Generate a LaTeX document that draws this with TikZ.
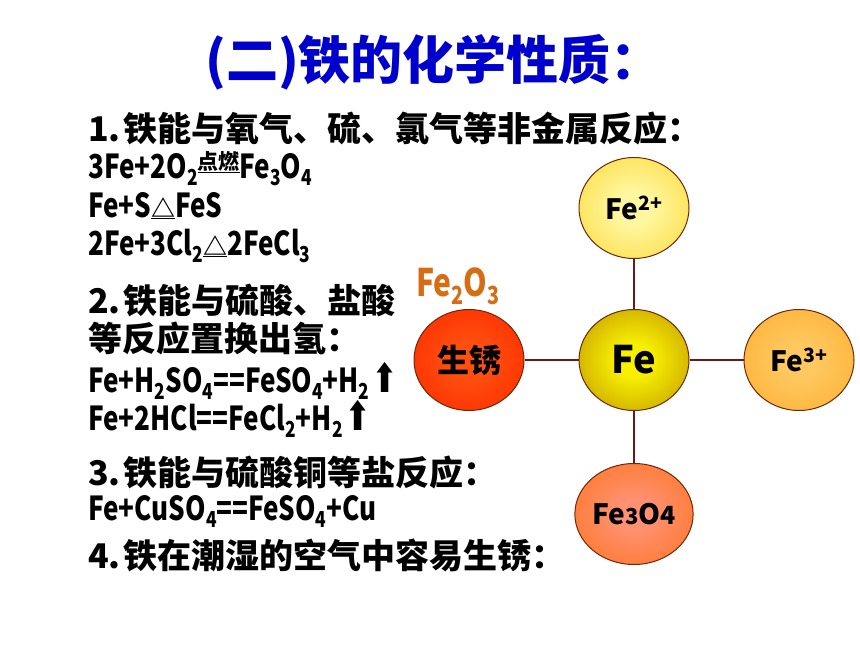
\documentclass[tikz,border=0pt]{standalone}
\usepackage{fontspec}
\usepackage{xcolor}
\setmainfont{Noto Sans CJK SC}
\newfontfamily\narrow{Noto Sans CJK SC}[FakeStretch=0.79]
\newfontfamily\sym{DejaVu Sans}[FakeStretch=0.75]
\usetikzlibrary{shapes.geometric}

\definecolor{titleblue}{RGB}{0,0,204}
\definecolor{rustorange}{RGB}{214,108,20}
\definecolor{linkbrown}{RGB}{107,26,26}
\definecolor{rimbrown}{RGB}{110,40,10}
\colorlet{bubin}{white}
\colorlet{bubmid}{gray}
\colorlet{bubout}{black}
\pgfdeclareradialshading[bubin,bubmid,bubout]{bubble}{\pgfpoint{0bp}{0bp}}{color(0bp)=(bubin); color(8bp)=(bubin); color(30bp)=(bubmid); color(50bp)=(bubout)}

\newcommand\dn[1]{\raisebox{-7pt}{\fontsize{22}{22}\selectfont #1}}
\newcommand\cond[3]{\raisebox{#1}{$\underline{\hbox{\fontsize{#2}{#2}\selectfont #3}}$}}
\newcommand\gasup{\hspace{3pt}{\sym\fontsize{40}{40}\selectfont ⬆}}

\tikzset{
  txt/.style={anchor=base west, inner sep=0pt, font=\fontsize{34}{40}\selectfont\bfseries},
  eqn/.style={anchor=base west, inner sep=0pt, font=\narrow\fontsize{33}{40}\selectfont\bfseries},
  bubble/.style n args={3}{ellipse, draw=rimbrown, line width=1pt, minimum width=110pt, minimum height=101pt, inner sep=0pt, /utils/exec={\definecolor{bubin}{HTML}{#1}\definecolor{bubmid}{HTML}{#2}\definecolor{bubout}{HTML}{#3}}, shade, shading=bubble},
  link/.style={draw=linkbrown, line width=2.5pt}
}

\begin{document}
\begin{tikzpicture}[x=1pt, y=-1pt]
  \useasboundingbox (0,0) rectangle (860,645);
  \node[anchor=base west, inner sep=0pt, font=\fontsize{52}{60}\selectfont\bfseries, text=titleblue] (title) at (205,79) {(二)铁的化学性质：};

  \node[txt] (t1) at (88,141) {1.\hspace{3pt}铁能与氧气、硫、氯气等非金属反应：};
  \node[eqn] (t2) at (88,178) {3Fe+2O\dn{2}\cond{9pt}{21}{\normalfont\bfseries 点燃}Fe\dn{3}O\dn{4}};
  \node[eqn] (t3) at (88,217) {Fe+S\cond{0pt}{24}{\normalfont\bfseries △}FeS};
  \node[eqn] (t4) at (88,255) {2Fe+3Cl\dn{2}\cond{0pt}{24}{\normalfont\bfseries △}2FeCl\dn{3}};
  \node[txt] (t5) at (88,313) {2.\hspace{3pt}铁能与硫酸、盐酸};
  \node[txt] (t6) at (88,351) {等反应置换出氢：};
  \node[eqn] (t7) at (88,392) {Fe+H\dn{2}SO\dn{4}==FeSO\dn{4}+H\dn{2}\gasup};
  \node[eqn] (t8) at (88,430) {Fe+2HCl==FeCl\dn{2}+H\dn{2}\gasup};
  \node[txt] (t9) at (88,485) {3.\hspace{3pt}铁能与硫酸铜等盐反应：};
  \node[eqn] (t10) at (88,520) {Fe+CuSO\dn{4}==FeSO\dn{4}+Cu};
  \node[txt] (t11) at (88,568) {4.\hspace{3pt}铁在潮湿的空气中容易生锈：};

  \node[anchor=base west, inner sep=0pt, font=\narrow\fontsize{38}{44}\selectfont\bfseries, text=rustorange] (rustname) at (416,296) {Fe\raisebox{-8pt}{\fontsize{25}{25}\selectfont 2}O\raisebox{-8pt}{\fontsize{25}{25}\selectfont 3}};

  \node[bubble={F8F000}{CCA800}{3E1200}, font=\fontsize{38}{44}\selectfont\bfseries] (fe) at (634,360) {Fe};
  \node[bubble={FFF7A0}{FDE050}{F2C000}, font=\fontsize{28}{34}\selectfont\bfseries] (fe2) at (634,208) {Fe\textsuperscript{2+}};
  \node[bubble={FFC860}{FDB43A}{F2A02C}, font=\fontsize{28}{34}\selectfont\bfseries] (fe3) at (799,360) {Fe\textsuperscript{3+}};
  \node[bubble={FF9070}{FF7A30}{FF681C}, font=\fontsize{28}{34}\selectfont\bfseries] (fe34) at (634,514) {Fe{\fontsize{22}{22}\selectfont 3}O{\fontsize{25}{25}\selectfont 4}};
  \node[bubble={FF5010}{FF3000}{EE1A00}, font=\fontsize{32}{38}\selectfont\bfseries] (rust) at (469,360) {生锈};

  \draw[link] (fe) -- (fe2);
  \draw[link] (fe) -- (fe3);
  \draw[link] (fe) -- (fe34);
  \draw[link] (fe) -- (rust);
\end{tikzpicture}
\end{document}
